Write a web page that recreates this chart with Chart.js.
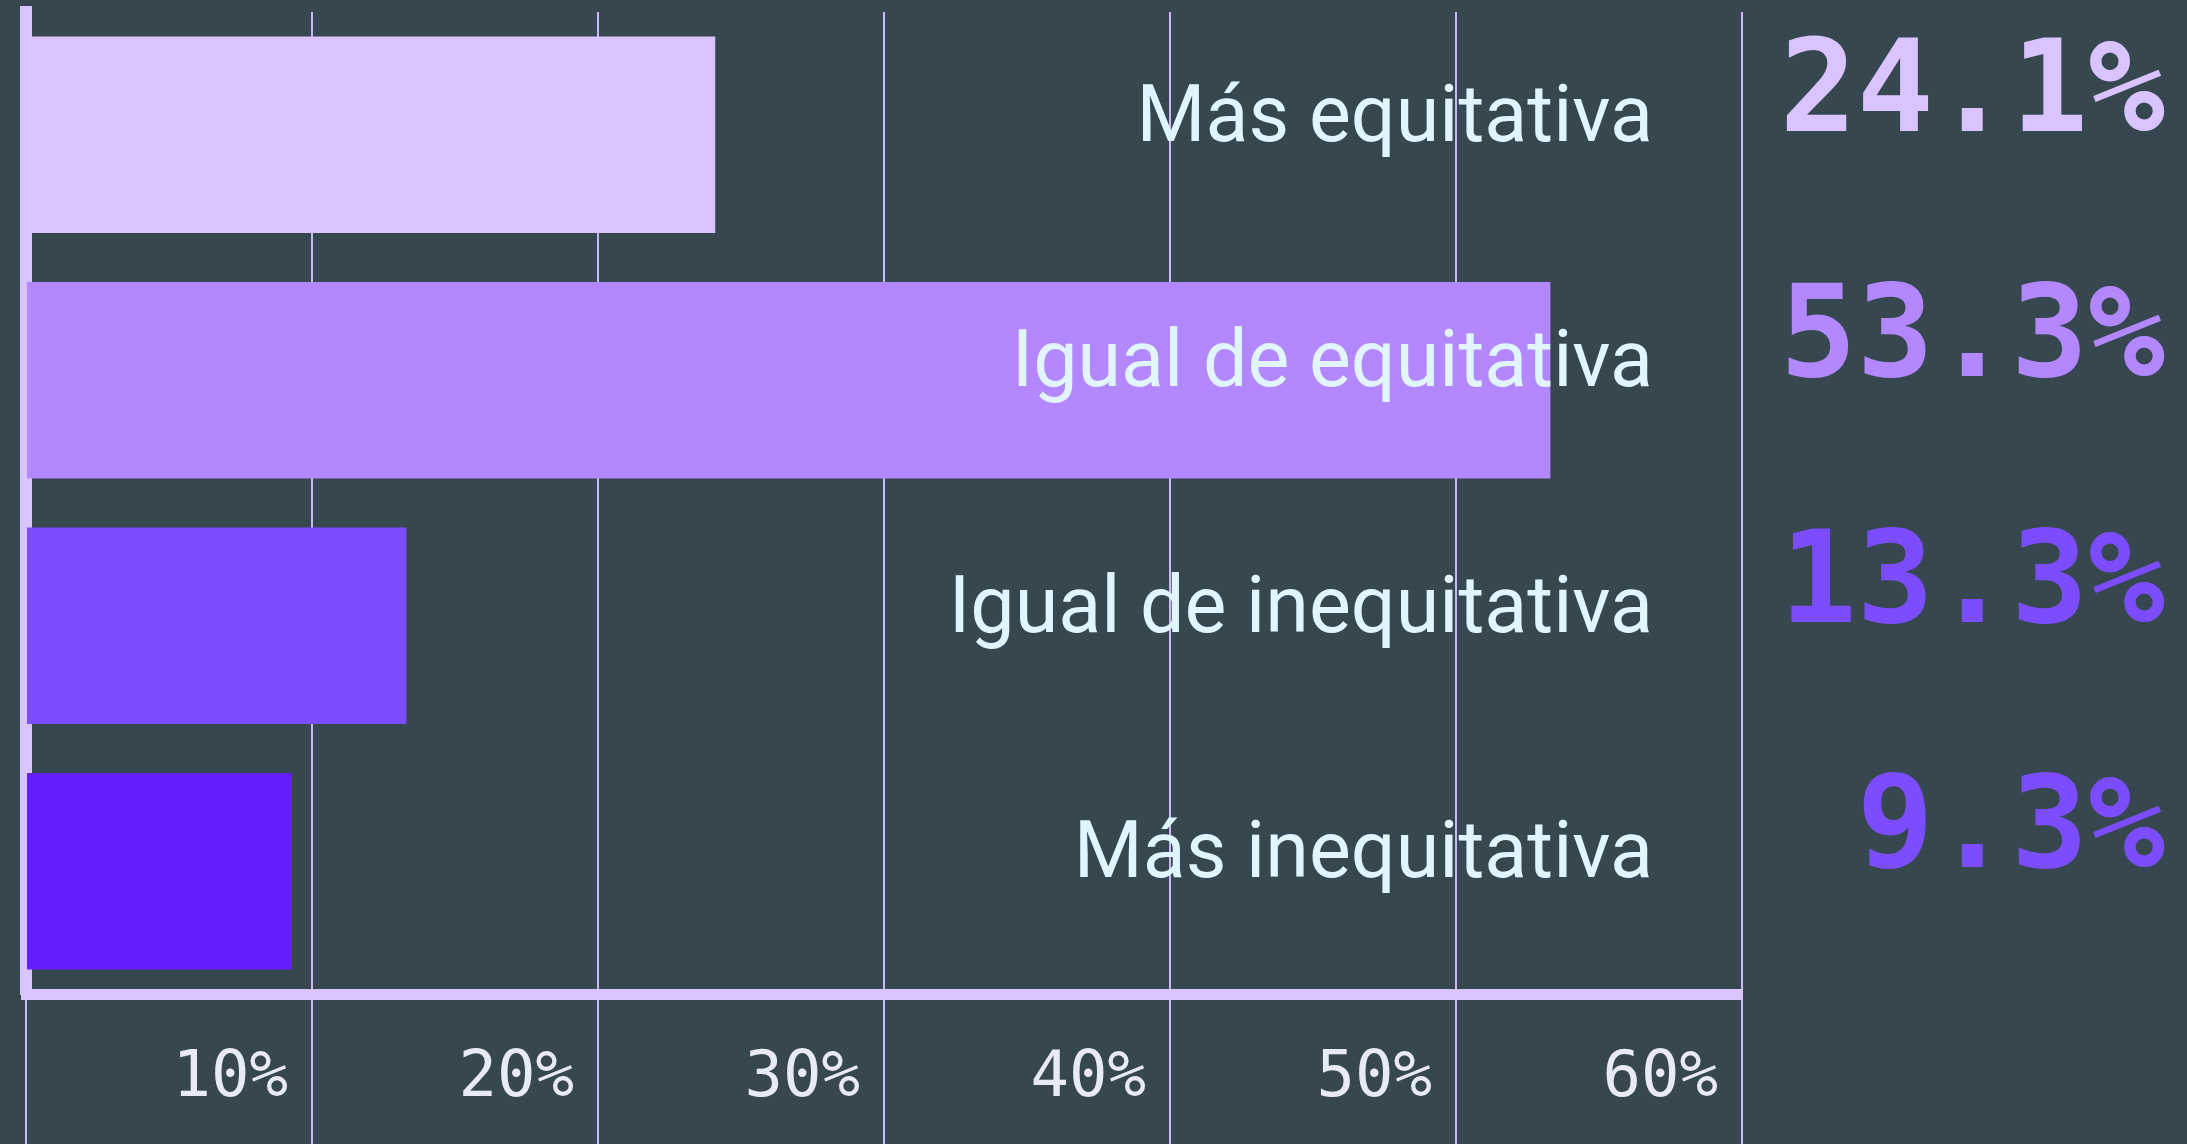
<!DOCTYPE html>
<html>
<head>
<meta charset="utf-8">
<script src="https://cdn.jsdelivr.net/npm/chart.js@4.4.0/dist/chart.umd.min.js"></script>
<style>
    html, body { margin: 0; padding: 0; background: #37474f; }
</style>
</head>
<body>
<canvas id="barChartEquity" width="2187" height="1144"></canvas>
<script>
// data
const categories = ["Más equitativa", "Igual de equitativa", "Igual de inequitativa", "Más inequitativa"];
const shares = [24.1, 53.3, 13.3, 9.3];
const shareLabels = ["24.1%", "53.3%", "13.3%", "9.3%"];
const xMin = 0;
const xMax = 60;
const xStep = 10;

const barColors = ['#d9c4ff', '#b388ff', '#7c4dff', '#651fff'];
const valueColors = ['#d9c4ff', '#b388ff', '#7c4dff', '#7c4dff'];

// category names inside the plot + big values on the right
const sideLabels = {
    id: 'sideLabels',
    afterDatasetsDraw(chart) {
        const ctx = chart.ctx;
        const yScale = chart.scales.y;
        const area = chart.chartArea;
        categories.forEach(function (cat, i) {
            let y = yScale.getPixelForValue(i);

            ctx.save();
            ctx.font = '79px Roboto';
            ctx.fillStyle = '#e1f5fe';
            ctx.textAlign = 'right';
            ctx.textBaseline = 'alphabetic';
            ctx.fillText(cat, area.right - 89, y + 6);
            ctx.restore();

            ctx.save();
            ctx.font = 'bold 128px "DejaVu Sans Mono"';
            ctx.fillStyle = valueColors[i];
            ctx.textAlign = 'right';
            ctx.textBaseline = 'alphabetic';
            ctx.fillText(shareLabels[i], chart.width - 22, y - 4);
            ctx.restore();
        });
    }
};

var ctxB = document.getElementById("barChartEquity").getContext('2d');
var equityChart = new Chart(ctxB, {
    type: 'bar',
    data: {
        labels: categories,
        datasets: [{
            data: shares,
            backgroundColor: barColors,
            barPercentage: 0.8,
            categoryPercentage: 1
        }]
    },
    options: {
        indexAxis: 'y',
        responsive: false,
        animation: false,
        layout: { padding: { top: 12, left: 26, right: 445, bottom: 0 } },
        plugins: {
            legend: { display: false },
            tooltip: { enabled: false }
        },
        scales: {
            x: {
                type: 'linear',
                min: xMin,
                max: xMax,
                position: 'bottom',
                ticks: {
                    stepSize: xStep,
                    color: '#e8eaf6',
                    font: { family: '"DejaVu Sans Mono"', size: 64 },
                    align: 'end',
                    labelOffset: -24,
                    padding: -103,
                    callback: function (v) { return v === 0 ? '' : v + '%'; }
                },
                grid: { color: '#c9b8f5', lineWidth: 2, drawTicks: true, tickLength: 150, tickColor: '#c9b8f5' },
                border: { display: true, color: '#d9c4ff', width: 11 },
                afterFit: function (scale) { scale.height = 150; }
            },
            y: {
                position: 'left',
                ticks: { display: false },
                grid: { display: false },
                border: { display: true, color: '#d9c4ff', width: 12 },
                afterFit: function (scale) { scale.width = 0; }
            }
        }
    },
    plugins: [sideLabels]
});
</script>
</body>
</html>
